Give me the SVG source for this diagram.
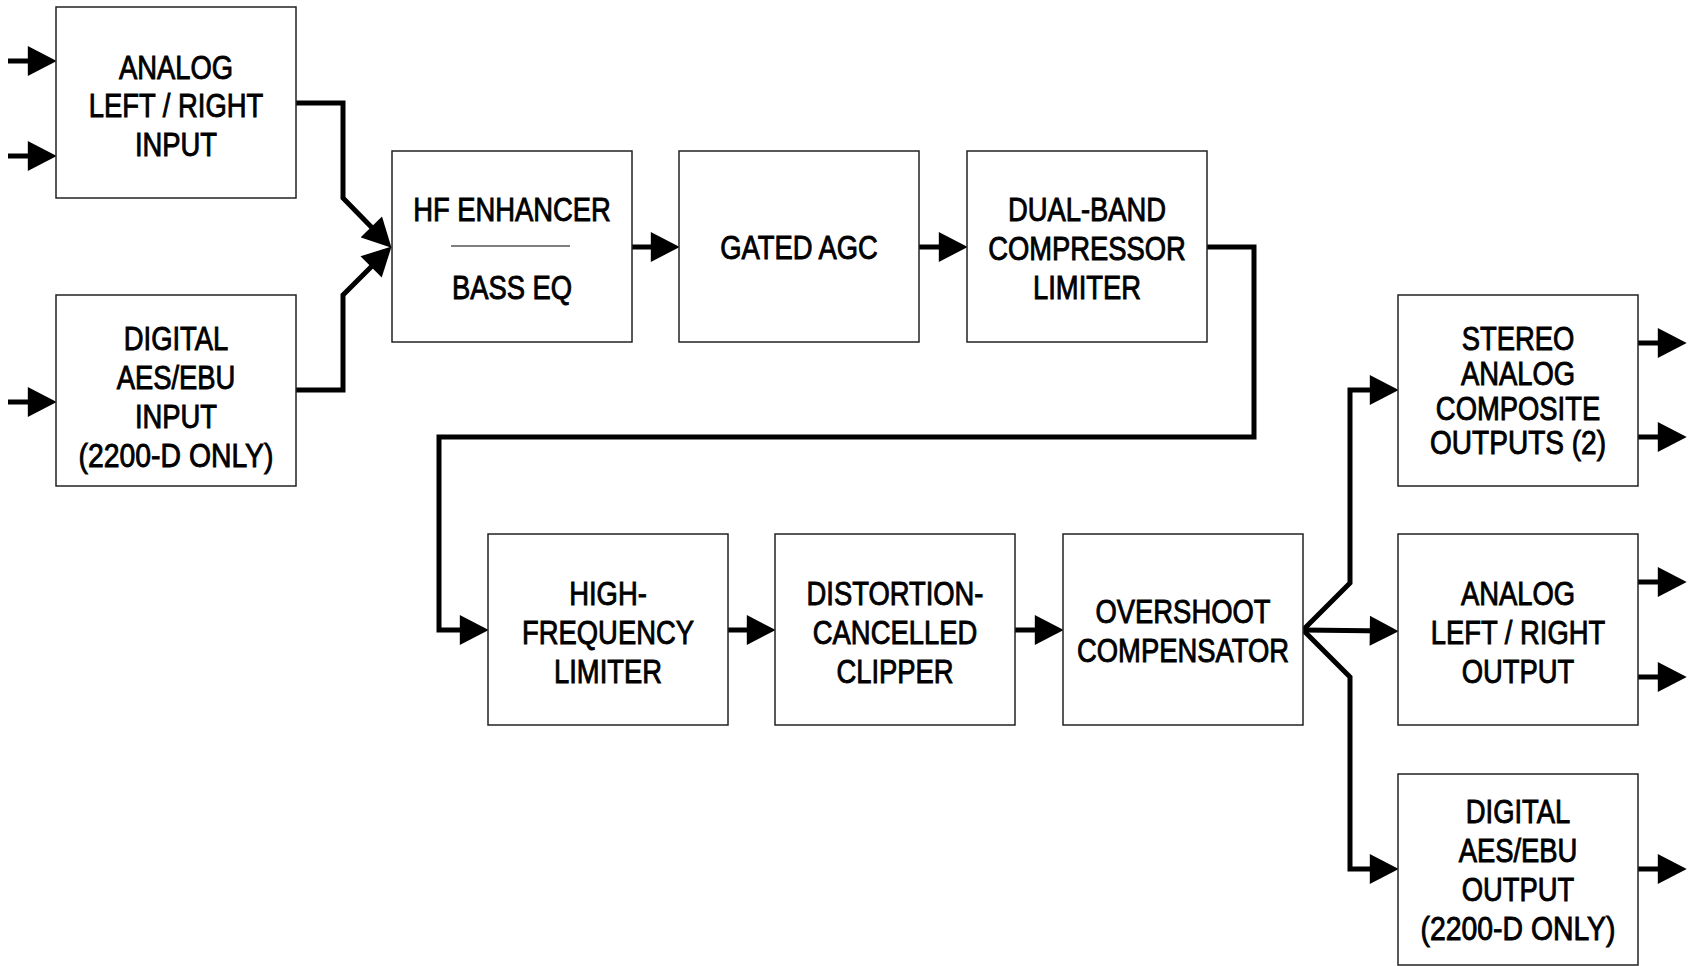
<svg xmlns="http://www.w3.org/2000/svg" width="1692" height="966" viewBox="0 0 1692 966">
<style>
.box{fill:#fff;stroke:#222;stroke-width:1.5}
.t{font-family:"Liberation Sans",Arial,sans-serif;font-size:33px;fill:#000;stroke:#000;stroke-width:0.9;text-anchor:middle}
.c{fill:none;stroke:#000;stroke-width:5;stroke-linejoin:miter;marker-end:url(#ah)}
</style>
<defs>
<marker id="ah" markerUnits="userSpaceOnUse" markerWidth="30" markerHeight="30" viewBox="0 0 27 28" refX="17" refY="14" orient="auto">
<path d="M0,0 L27,14 L0,28 z" fill="#000"/>
</marker>
</defs>
<rect width="1692" height="966" fill="#fff"/>
<g id="connectors">
<path class="c" d="M8,61 H46"/>
<path class="c" d="M8,156 H46"/>
<path class="c" d="M8,402 H46"/>
<path class="c" d="M296,103 H343 V198 L384,240"/>
<path class="c" d="M296,390 H343 V295 L384,254"/>
<path class="c" d="M632,247 H669"/>
<path class="c" d="M919,247 H957"/>
<path class="c" d="M1207,247 H1254 V437 H439 V630 H478"/>
<path class="c" d="M728,630 H765"/>
<path class="c" d="M1015,630 H1053"/>
<path class="c" d="M1303,630 L1350,583 V390 H1388"/>
<path class="c" d="M1303,630 L1388,631"/>
<path class="c" d="M1303,630 L1350,677 V869 H1388"/>
<path class="c" d="M1638,343 H1676"/>
<path class="c" d="M1638,437 H1676"/>
<path class="c" d="M1638,582 H1676"/>
<path class="c" d="M1638,677 H1676"/>
<path class="c" d="M1638,869 H1676"/>
</g>
<g id="analog-input">
<rect class="box" x="56" y="7" width="240" height="191"/>
<text class="t" transform="translate(176,78.5) scale(0.83,1)">ANALOG</text>
<text class="t" transform="translate(176,117.3) scale(0.83,1)">LEFT / RIGHT</text>
<text class="t" transform="translate(176,156.2) scale(0.83,1)">INPUT</text>
</g>
<g id="digital-input">
<rect class="box" x="56" y="295" width="240" height="191"/>
<text class="t" transform="translate(176,350.4) scale(0.83,1)">DIGITAL</text>
<text class="t" transform="translate(176,389.3) scale(0.83,1)">AES/EBU</text>
<text class="t" transform="translate(176,428.1) scale(0.83,1)">INPUT</text>
<text class="t" transform="translate(176,467) scale(0.86,1)">(2200-D ONLY)</text>
</g>
<g id="hf-enhancer">
<rect class="box" x="392" y="151" width="240" height="191"/>
<text class="t" transform="translate(512,221) scale(0.83,1)">HF ENHANCER</text>
<line x1="451" y1="246" x2="570" y2="246" stroke="#000" stroke-width="1.2"/>
<text class="t" transform="translate(512,298.6) scale(0.83,1)">BASS EQ</text>
</g>
<g id="gated-agc">
<rect class="box" x="679" y="151" width="240" height="191"/>
<text class="t" transform="translate(799,258.7) scale(0.83,1)">GATED AGC</text>
</g>
<g id="dual-band">
<rect class="box" x="967" y="151" width="240" height="191"/>
<text class="t" transform="translate(1087,221) scale(0.83,1)">DUAL-BAND</text>
<text class="t" transform="translate(1087,259.8) scale(0.83,1)">COMPRESSOR</text>
<text class="t" transform="translate(1087,298.6) scale(0.83,1)">LIMITER</text>
</g>
<g id="hf-limiter">
<rect class="box" x="488" y="534" width="240" height="191"/>
<text class="t" transform="translate(608,605) scale(0.83,1)">HIGH-</text>
<text class="t" transform="translate(608,644) scale(0.83,1)">FREQUENCY</text>
<text class="t" transform="translate(608,682.8) scale(0.83,1)">LIMITER</text>
</g>
<g id="clipper">
<rect class="box" x="775" y="534" width="240" height="191"/>
<text class="t" transform="translate(895,605) scale(0.83,1)">DISTORTION-</text>
<text class="t" transform="translate(895,644) scale(0.83,1)">CANCELLED</text>
<text class="t" transform="translate(895,682.8) scale(0.83,1)">CLIPPER</text>
</g>
<g id="overshoot">
<rect class="box" x="1063" y="534" width="240" height="191"/>
<text class="t" transform="translate(1183,623.4) scale(0.83,1)">OVERSHOOT</text>
<text class="t" transform="translate(1183,662.3) scale(0.83,1)">COMPENSATOR</text>
</g>
<g id="stereo-out">
<rect class="box" x="1398" y="295" width="240" height="191"/>
<text class="t" transform="translate(1518,350.4) scale(0.83,1)">STEREO</text>
<text class="t" transform="translate(1518,385) scale(0.83,1)">ANALOG</text>
<text class="t" transform="translate(1518,419.5) scale(0.83,1)">COMPOSITE</text>
<text class="t" transform="translate(1518,454) scale(0.85,1)">OUTPUTS (2)</text>
</g>
<g id="analog-out">
<rect class="box" x="1398" y="534" width="240" height="191"/>
<text class="t" transform="translate(1518,605) scale(0.83,1)">ANALOG</text>
<text class="t" transform="translate(1518,644) scale(0.83,1)">LEFT / RIGHT</text>
<text class="t" transform="translate(1518,682.8) scale(0.83,1)">OUTPUT</text>
</g>
<g id="digital-out">
<rect class="box" x="1398" y="774" width="240" height="191"/>
<text class="t" transform="translate(1518,823) scale(0.83,1)">DIGITAL</text>
<text class="t" transform="translate(1518,862) scale(0.83,1)">AES/EBU</text>
<text class="t" transform="translate(1518,900.8) scale(0.83,1)">OUTPUT</text>
<text class="t" transform="translate(1518,939.6) scale(0.86,1)">(2200-D ONLY)</text>
</g>
</svg>
